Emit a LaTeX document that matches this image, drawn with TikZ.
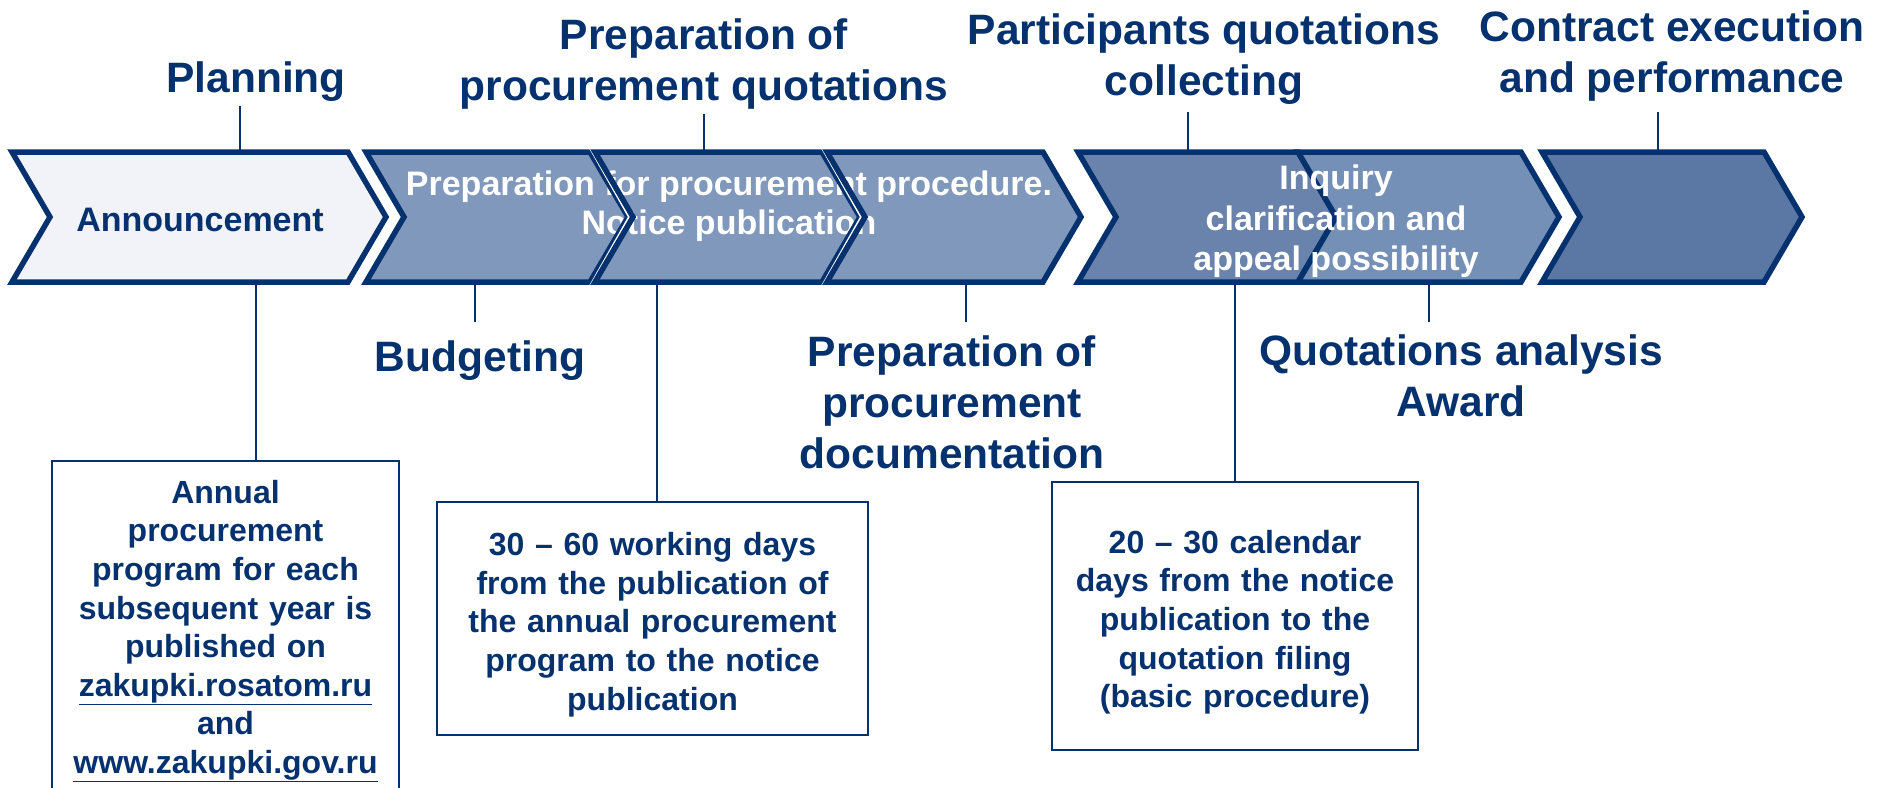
\documentclass[tikz,border=0pt]{standalone}
\usepackage{fontspec}
\setmainfont{Liberation Sans}
\definecolor{proc navy}{HTML}{05326F}
\definecolor{stage pale}{HTML}{F2F3F8}
\definecolor{stage light}{HTML}{7F98BB}
\definecolor{stage mid}{HTML}{6983AC}
\definecolor{stage soft}{HTML}{7590B7}
\definecolor{stage deep}{HTML}{5B78A5}
\tikzset{
    x={1pt},
    y={-1pt},
    stage shape/.style 2 args={
        insert path={(#1,152) -- (#2,152) -- ({#2+38},217) -- (#2,282) -- (#1,282) -- ({#1+38},217) -- cycle},
    },
    stage fill/.style={
        fill={#1},
    },
    stage border/.style={
        draw=proc navy,
        line width={5.5pt},
        line join=miter,
    },
    stage chevron/.style={
        stage fill={#1},
        stage border,
    },
    stage seam/.style={
        draw=white,
        line width={2pt},
        insert path={({#1-5},148) -- ({#1+34},217) -- ({#1-5},286)},
    },
    stage label/.style={
        font={\fontsize{34}{39}\selectfont\bfseries},
        text={#1},
        align=center,
        inner sep=0pt,
    },
    phase label/.style={
        font={\fontsize{42.5}{51}\selectfont\bfseries},
        text=proc navy,
        align=center,
        inner sep=0pt,
    },
    stage tick/.style={
        draw=proc navy,
        line width={2pt},
    },
    term box/.style 2 args={
        draw=proc navy,
        line width={2.5pt},
        fill=white,
        font={\fontsize{32}{38.6}\selectfont\bfseries},
        text=proc navy,
        align=center,
        inner sep=0pt,
        text width={#1},
        minimum height={#2},
    },
}

\begin{document}
\begin{tikzpicture}
% background
\useasboundingbox[fill=white] (0,0) rectangle (1881,787);
\coordinate (stage top) at (0,150);
\coordinate (stage foot) at (0,284);
% stages
\path[stage chevron=stage pale, stage shape={12}{348}];
\path[stage fill=stage light, stage shape={366}{590}];
\path[stage fill=stage light, stage shape={595}{822}];
\path[stage fill=stage light, stage shape={827}{1043}];
\node[stage label=white] (notice) at (729,206.5) {Preparation for procurement procedure.\\Notice publication};
\path[stage border, stage shape={366}{590}];
\path[stage seam={595}];
\path[stage border, stage shape={595}{822}];
\path[stage seam={827}];
\path[stage border, stage shape={827}{1043}];
\path[stage chevron=stage mid, stage shape={1078}{1298}];
\path[stage chevron=stage soft, stage shape={1298}{1521}];
\path[stage chevron=stage deep, stage shape={1542}{1764}];
\node[stage label=proc navy] (announce) at (200,220) {Announcement};
\node[stage label=white, font={\fontsize{34}{40.5}\selectfont\bfseries}] (inquiry) at (1336,221.5) {Inquiry\\clarification and\\appeal possibility};
% phases
\node[phase label] (planning) at (256,82) {Planning};
\node[phase label] (quote prep) at (704,64.5) {Preparation of\\procurement quotations};
\node[phase label] (collecting) at (1204,59.5) {Participants quotations\\collecting};
\node[phase label] (execution) at (1672,56.5) {Contract execution\\and performance};
\node[phase label] (budgeting) at (480,360.5) {Budgeting};
\node[phase label] (documentation) at (952,402) {Preparation of\\procurement\\documentation};
\node[phase label] (analysis) at (1461,376) {Quotations analysis\\Award};
% ticks
\coordinate (planning tick) at (240,106);
\coordinate (quote prep tick) at (704,114);
\coordinate (collecting tick) at (1188,112);
\coordinate (execution tick) at (1658,112);
\coordinate (budgeting tick) at (475,322);
\coordinate (documentation tick) at (966,322);
\coordinate (analysis tick) at (1429,322);
\draw[stage tick] (planning tick) -- (planning tick |- stage top);
\draw[stage tick] (quote prep tick) -- (quote prep tick |- stage top);
\draw[stage tick] (collecting tick) -- (collecting tick |- stage top);
\draw[stage tick] (execution tick) -- (execution tick |- stage top);
\draw[stage tick] (budgeting tick) -- (budgeting tick |- stage foot);
\draw[stage tick] (documentation tick) -- (documentation tick |- stage foot);
\draw[stage tick] (analysis tick) -- (analysis tick |- stage foot);
% terms
\node[term box={347}{333}] (annual box) at (225.5,627.5) {\rule{0pt}{30.5pt}Annual\\procurement\\program for each\\subsequent year is\\published on\\\underline{zakupki.rosatom.ru}\\and\\\underline{www.zakupki.gov.ru}};
\node[term box={431}{233}] (working box) at (652.5,618.5) {\rule{0pt}{35.5pt}30 – 60 working days\\from the publication of\\the annual procurement\\program to the notice\\publication};
\node[term box={366}{268}] (calendar box) at (1235,616) {\rule{0pt}{35.5pt}20 – 30 calendar\\days from the notice\\publication to the\\quotation filing\\(basic procedure)};
\coordinate (announce foot) at (256,284);
\coordinate (notice foot) at (657,284);
\coordinate (inquiry foot) at (1235,284);
\draw[stage tick] (announce foot) -- (announce foot |- annual box.north);
\draw[stage tick] (notice foot) -- (notice foot |- working box.north);
\draw[stage tick] (inquiry foot) -- (calendar box.north);
\end{tikzpicture}
\end{document}
